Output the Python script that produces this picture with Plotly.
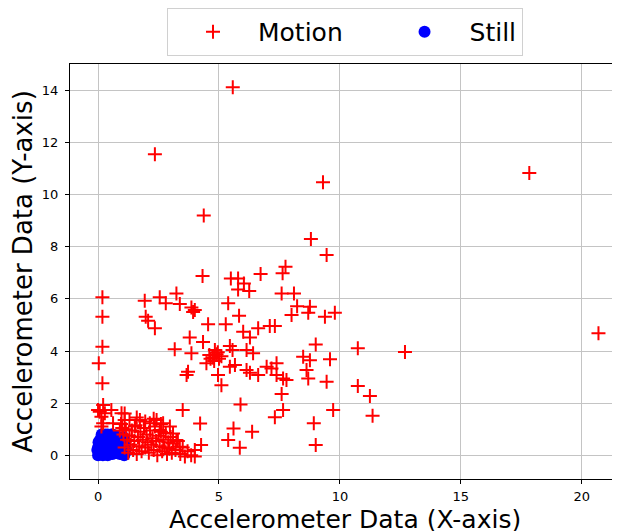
import plotly.graph_objects as go

# Motion (red plus) points
motion_x = [5.57, 2.35, 4.37, 17.83, 9.3, 9.45, 8.8, 20.69, 12.69,
            7.75, 7.63, 6.72, 4.32, 5.49, 5.79, 6.03, 6.25, 5.79, 7.59, 8.1, 0.18, 1.93, 2.55, 3.24, 2.8, 3.38,
            3.86, 3.93, 4.0, 5.38, 5.83, 8.23, 8.76, 8.69, 8.0, 9.38, 9.79, 0.18, 1.97, 2.07, 2.35, 4.55, 5.28,
            7.1, 7.31, 6.62, 6.0, 6.28, 3.79, 4.34, 3.17, 0.18, 3.86, 4.83, 5.45, 5.56, 6.14, 6.41,
            4.6, 4.75, 4.9, 5.0, 4.8, 4.65, 4.95, 5.1,
            4.48, 9.0, 10.74, 8.48, 8.76, 9.59, 0.03, 3.72, 3.66, 4.96, 5.45, 5.66, 6.14, 6.28, 6.62, 6.97, 7.17,
            7.38, 7.38, 7.65, 7.79, 8.62, 8.69, 9.45, 10.74, 5.1, 0.18, 7.59, 11.24, 11.35, 9.72,
            7.65, 7.31, 8.92, 9.0, 5.89, 6.37, 5.6, 5.38, 5.86, 3.5, 4.22, 4.26,
            0.0, 0.21, 0.07, 0.28, 0.14, 0.55, 0.21, 0.14, 0.97, 1.1, 0.62, 1.52, 1.73, 2.14, 2.42, 2.69, 2.97,
            2.55, 3.1, 3.24, 3.38, 3.59, 4.0, 4.0,
            1.05, 1.1, 1.15, 1.2, 1.25, 1.3, 1.35, 1.4, 1.45, 1.5, 1.55, 1.6, 1.65, 1.7, 1.75, 1.8,
            1.85, 1.9, 1.95, 2.0, 2.05, 2.1, 2.15, 2.2, 2.25, 2.3, 2.35, 2.4, 2.45, 2.5, 2.55, 2.6, 2.65, 2.7,
            2.75, 2.8, 2.85, 2.9, 2.95, 3.0, 3.05, 3.1, 3.2, 3.3, 3.4, 3.5, 3.7, 3.85,
            1.3, 1.6, 1.95, 2.3, 2.6, 1.1, 0.95, 0.9, 1.0]
motion_y = [14.12, 11.55, 9.2, 10.83, 10.47, 7.68, 8.3, 4.68, 3.96,
            7.23, 6.98, 6.95, 6.88, 6.78, 6.78, 6.59, 6.3, 6.36, 6.21, 6.21, 6.06, 5.93, 6.06, 6.21, 5.83, 5.8,
            5.67, 5.5, 5.57, 5.83, 5.35, 5.72, 5.7, 5.47, 5.38, 5.31, 5.47, 5.31, 5.31, 5.16, 4.87, 5.03, 5.03,
            4.96, 4.96, 4.87, 4.74, 4.52, 4.52, 4.35, 4.07, 4.16, 3.91, 4.04, 4.19, 4.04, 4.04, 3.91,
            3.85, 3.75, 3.88, 3.7, 3.62, 3.7, 3.95, 3.8,
            3.53, 4.25, 4.11, 3.78, 3.65, 3.68, 3.53, 3.2, 3.08, 3.08, 3.4, 3.46, 3.27, 3.17, 3.08, 3.4, 3.33,
            3.53, 3.08, 2.95, 2.89, 3.27, 2.95, 2.82, 2.66, 2.69, 2.76, 2.35, 2.27, 1.52, 1.74,
            1.74, 1.46, 1.23, 0.39, 1.95, 0.9, 1.03, 0.59, 0.29, 1.74, 1.22, 0.39,
            1.74, 1.93, 1.67, 1.61, 1.48, 1.74, 1.23, 1.1, 1.61, 1.35, 1.23, 1.1, 1.35, 1.23, 1.35, 1.23, 1.1,
            0.97, 0.84, 0.59, 0.33, -0.05, -0.05, 0.2,
            0.8, 0.3, 1.0, 0.6, 0.1, 0.75, 0.4, 0.95, 0.2, 0.55, 1.15, 0.05, 0.7, 0.35, 0.9, 0.15,
            0.6, 1.05, 0.3, 0.8, 0.5, 0.1, 0.95, 0.4, 0.65, 0.2, 1.1, 0.55, 0.0, 0.75, 0.35, 0.9, 0.15, 0.6,
            0.3, 0.85, 0.05, 0.5, 0.25, 0.7, 0.1, 0.45, 0.2, 0.55, 0.05, 0.3, 0.15, 0.0,
            1.35, 1.45, 1.3, 1.4, 1.2, 1.6, 1.2, 0.95, 1.05]

# Still (blue circle) points
still_x = [0.0, 0.05, 0.1, 0.0, 0.02, 0.05, 0.1, 0.15, 0.2, 0.2, 0.25, 0.3, 0.3, 0.35, 0.4, 0.4, 0.45,
           0.5, 0.5, 0.55, 0.6, 0.6, 0.65, 0.7, 0.75, 0.8, 0.85, 0.9, 0.95, 0.95, 0.15, 0.12, 0.3, 0.55,
           0.7, 0.85, 0.25, 0.45, 0.65, 0.8, 1.0, 1.0, -0.03, 1.1, 1.15, 1.12, 1.05, 1.08]
still_y = [0.0, 0.1, 0.05, 0.3, 0.5, 0.55, 0.35, 0.2, 0.0, 0.45, 0.75, 0.1, 0.55, 0.3, 0.0, 0.8, 0.5,
           0.2, 0.65, 0.4, 0.05, 0.8, 0.3, 0.55, 0.15, 0.7, 0.4, 0.05, 0.3, 0.6, 0.8, 0.65, 0.8, 0.8,
           0.75, 0.2, 0.2, 0.15, 0.6, 0.5, 0.1, 0.45, 0.2, 0.05, 0.25, 0.5, 0.7, 0.0]

x_ticks = [0, 5, 10, 15, 20]
y_ticks = [0, 2, 4, 6, 8, 10, 12, 14]

X_TITLE = "Accelerometer Data (X-axis)"
Y_TITLE = "Accelerometer Data (Y-axis)"

FONT = "DejaVu Sans"
NBSP = "\u00a0"

fig = go.Figure()
fig.add_trace(go.Scatter(
    x=still_x, y=still_y, mode="markers", name="Still", legendrank=2,
    marker=dict(symbol="circle", size=12, color="blue", line=dict(width=0)),
))
fig.add_trace(go.Scatter(
    x=motion_x, y=motion_y, mode="markers", name="Motion" + NBSP * 4, legendrank=1,
    marker=dict(symbol="cross-thin", size=10, color="red", line=dict(width=2, color="red")),
))

axis_common = dict(
    showgrid=True, gridcolor="#c4c4c4", gridwidth=1,
    zeroline=False, showline=True, linecolor="black", linewidth=1, mirror=True,
    ticks="outside", ticklen=4, tickcolor="black",
    tickfont=dict(family=FONT, size=13, color="black"),
)

# The page body adds an 8px offset; the figure is sized so the plot lands where the reference has it.
fig.update_layout(
    width=612, height=523,
    margin=dict(l=62, r=0, t=56, b=52, autoexpand=False),
    paper_bgcolor="white", plot_bgcolor="white",
    font=dict(family=FONT, color="black"),
    xaxis=dict(range=[-1.16, 21.58], tickvals=x_ticks, automargin=False, ticklabelstandoff=1,
               **axis_common),
    yaxis=dict(range=[-0.91, 15.01], tickvals=y_ticks, automargin=True, ticklabelstandoff=4,
               title=dict(text=Y_TITLE, font=dict(family=FONT, size=26), standoff=10),
               **axis_common),
    legend=dict(orientation="h", x=0.5, xanchor="center", y=1.135, yanchor="top",
                font=dict(family=FONT, size=25), bordercolor="#d0d0d0", borderwidth=1,
                itemwidth=80, entrywidth=0, traceorder="normal"),
    showlegend=True,
    annotations=[dict(text=X_TITLE, xref="paper", yref="paper", x=0.5, y=0,
                      xanchor="center", yanchor="top", yshift=-24, showarrow=False,
                      font=dict(family=FONT, size=25, color="black"))],
)

fig.write_html("out.html")
